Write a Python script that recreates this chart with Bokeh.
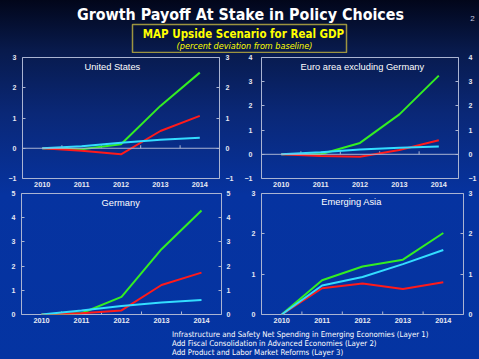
import math
from bokeh.plotting import figure
from bokeh.layouts import column, row
from bokeh.models import (Range1d, FixedTicker, LinearAxis, Span, Label, Legend,
                          LegendItem, BoxAnnotation, GlobalInlineStyleSheet)
from bokeh.embed import file_html
from bokeh.resources import INLINE

# ---------------- data ----------------
years = [2010, 2011, 2012, 2013, 2014]
year_labels = ["2010", "2011", "2012", "2013", "2014"]

series_names = [
    "Infrastructure and Safety Net Spending in Emerging Economies (Layer 1)",
    "Add Fiscal Consolidation in Advanced Economies (Layer 2)",
    "Add Product and Labor Market Reforms (Layer 3)",
]
series_colors = ["#33ddff", "#ff1a1a", "#33ee22"]

us_layer1 = [0, 0.07, 0.18, 0.28, 0.35]
us_layer2 = [0, -0.08, -0.20, 0.57, 1.07]
us_layer3 = [0, -0.03, 0.13, 1.40, 2.50]

euro_layer1 = [0, 0.08, 0.20, 0.27, 0.32]
euro_layer2 = [0, -0.07, -0.10, 0.18, 0.58]
euro_layer3 = [0, 0.00, 0.47, 1.65, 3.25]

ger_layer1 = [0, 0.17, 0.35, 0.50, 0.60]
ger_layer2 = [0, 0.05, 0.17, 1.22, 1.73]
ger_layer3 = [0, 0.05, 0.73, 2.70, 4.30]

asia_layer1 = [0, 0.72, 0.93, 1.25, 1.60]
asia_layer2 = [0, 0.65, 0.77, 0.63, 0.80]
asia_layer3 = [0, 0.85, 1.19, 1.36, 2.02]

FRAME = "#aab4d2"
TICKTXT = "#e6e8f2"


def panel(title, tx, ty, ymin, ymax, layers, width, height, bl, br, bt, bb,
          lstand=6, rstand=6, zero_line=True):
    p = figure(width=width, height=height, x_range=Range1d(2009.5, 2014.5),
               y_range=Range1d(ymin, ymax), output_backend="svg",
               toolbar_location=None, min_border_left=bl, min_border_right=br,
               min_border_top=bt, min_border_bottom=bb,
               background_fill_alpha=0, border_fill_alpha=0,
               outline_line_color=FRAME, outline_line_width=1)
    p.grid.visible = False
    p.add_layout(LinearAxis(), "right")
    yt = list(range(ymin, ymax + 1))
    for ax in p.yaxis:
        ax.ticker = FixedTicker(ticks=yt)
        ax.axis_line_color = None
        ax.major_tick_in = 3
        ax.major_tick_out = 0
        ax.major_tick_line_color = FRAME
        ax.minor_tick_line_color = None
        ax.major_label_text_font = "Liberation Sans"
        ax.major_label_text_font_style = "bold"
        ax.major_label_text_font_size = "7px"
        ax.major_label_text_color = TICKTXT
    p.yaxis[0].major_label_standoff = lstand
    p.yaxis[1].major_label_standoff = rstand
    xa = p.xaxis[0]
    xa.ticker = FixedTicker(ticks=years)
    xa.major_label_overrides = {y: l for y, l in zip(years, year_labels)}
    xa.axis_line_color = None
    xa.major_tick_in = 0
    xa.major_tick_out = 0
    xa.minor_tick_line_color = None
    xa.major_label_standoff = 3
    xa.major_label_text_font = "Liberation Sans"
    xa.major_label_text_font_style = "bold"
    xa.major_label_text_font_size = "7.3px"
    xa.major_label_text_color = TICKTXT

    if zero_line:
        p.add_layout(Span(location=0, dimension="width", line_color=FRAME, line_width=1))
    bounds = [y + 0.5 for y in years[:-1]]
    p.ray(x=bounds, y=[0] * len(bounds), length=3, angle=math.pi / 2,
          length_units="screen", line_color=FRAME, line_width=1)

    for vals, c in reversed(list(zip(layers, series_colors))):
        p.line(years, vals, line_color=c, line_width=2)

    p.add_layout(Label(x=tx, y=ty, text=title, text_align="center",
                       text_baseline="middle", text_color="white",
                       text_font="Liberation Sans", text_font_size="9.3px"))
    return p


# page coordinates (window 479 x 359, margin removed)
tl = panel("United States", 2011.78, 2.67, -1, 3, [us_layer1, us_layer2, us_layer3],
           240, 136, 22, 21, 4, 11, lstand=6, rstand=6)
tr = panel("Euro area excluding Germany", 2012.06, 3.59, -1, 4,
           [euro_layer1, euro_layer2, euro_layer3], 239, 136, 21, 21, 4, 11,
           lstand=9, rstand=10)
bl = panel("Germany", 2011.98, 4.62, 0, 5, [ger_layer1, ger_layer2, ger_layer3],
           240, 137, 21, 19, 4, 12, lstand=6, rstand=5, zero_line=False)
br = panel("Emerging Asia", 2011.73, 2.78, 0, 3, [asia_layer1, asia_layer2, asia_layer3],
           239, 137, 21, 16, 4, 12, lstand=6, rstand=5, zero_line=False)

# ---------------- header ----------------
hdr = figure(width=479, height=53, x_range=Range1d(0, 479), y_range=Range1d(53, 0),
             x_axis_location=None, y_axis_location=None, output_backend="svg",
             toolbar_location=None, min_border=0, background_fill_alpha=0,
             border_fill_alpha=0, outline_line_color=None)
hdr.grid.visible = False
hdr.add_layout(Label(x=240, y=13.5, text="Growth Payoff At Stake in Policy Choices",
                     text_align="center", text_baseline="middle", text_color="white",
                     text_font="DejaVu Sans Condensed", text_font_style="bold",
                     text_font_size="15.9px"))
hdr.add_layout(Label(x=472, y=18, text="2", text_align="center", text_baseline="middle",
                     text_color="#c4cae0", text_font="Liberation Sans",
                     text_font_size="8px"))
hdr.add_layout(BoxAnnotation(left=132, right=346, top=24, bottom=52, fill_alpha=0,
                             line_color="#9c9440", line_width=1.5, line_alpha=1))
hdr.add_layout(Label(x=243, y=33.5, text="MAP Upside Scenario for Real GDP",
                     text_align="center", text_baseline="middle", text_color="#ffff00",
                     text_font="DejaVu Sans Condensed", text_font_style="bold",
                     text_font_size="11.5px"))
hdr.add_layout(Label(x=244, y=45, text="(percent deviation from baseline)",
                     text_align="center", text_baseline="middle", text_color="#ffff00",
                     text_font="DejaVu Sans Condensed", text_font_style="italic",
                     text_font_size="9px"))

# ---------------- legend ----------------
leg = figure(width=479, height=33, x_range=Range1d(0, 1), y_range=Range1d(0, 1),
             x_axis_location=None, y_axis_location=None, output_backend="svg",
             toolbar_location=None, min_border=0, background_fill_alpha=0,
             border_fill_alpha=0, outline_line_color=None)
leg.grid.visible = False
items = []
for name, c in zip(series_names, series_colors):
    r = leg.line(x=[], y=[], line_color=c, line_width=2.5)
    items.append(LegendItem(label=name, renderers=[r]))
legend = Legend(items=items, location=(150, 2), orientation="vertical", padding=0,
                margin=0, spacing=0, glyph_width=14, glyph_height=9, label_height=9,
                label_standoff=8, label_text_font="DejaVu Sans Condensed",
                label_text_font_size="7.8px", label_text_color="white",
                border_line_color=None, background_fill_alpha=0)
leg.add_layout(legend)

css = """
html, body { overflow: hidden; margin: 0 !important; padding: 0 !important; }
html { height: 100%; background-color: #0434a2;
  background-image: linear-gradient(to bottom, #02061a 0px, #081a4c 50px, #0a2878 115px, #0633a0 195px, #0434a2 359px);
  background-repeat: no-repeat; }
body { background: transparent; }
"""

layout = column(hdr, row(tl, tr), row(bl, br), leg,
                stylesheets=[GlobalInlineStyleSheet(css=css)])

open("out.html", "w").write(file_html(layout, INLINE))
